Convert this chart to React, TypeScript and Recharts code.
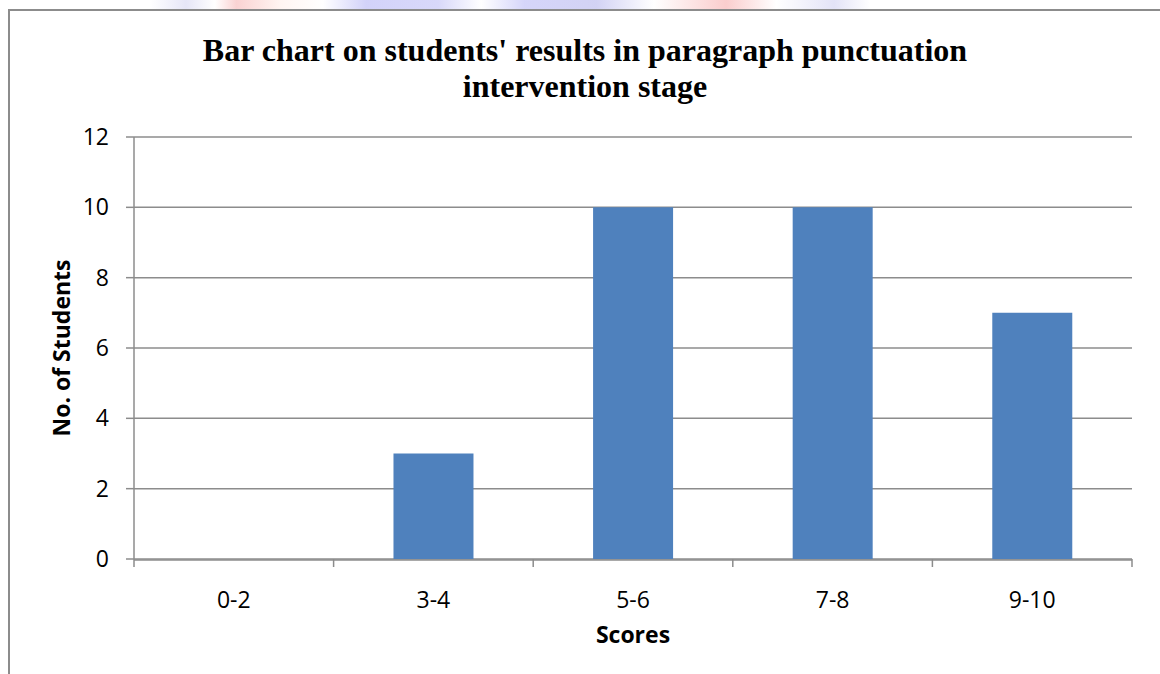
import { BarChart, Bar, XAxis, YAxis, CartesianGrid } from "recharts"

const scoreRanges = ["0-2", "3-4", "5-6", "7-8", "9-10"]
const studentCounts = [0, 3, 10, 10, 7]
const yTicks = [0, 2, 4, 6, 8, 10, 12]
const boundaryTicks = [0, 1, 2, 3, 4, 5]

const titleLines = [
  "Bar chart on students' results in paragraph punctuation",
  "intervention stage",
]

const data = scoreRanges.map((range, i) => ({ range, students: studentCounts[i], pos: i }))

const GRID = "#8c8c8c"
const SANS = "'Open Sans', sans-serif"

export default function App() {
  return (
    <div
      style={{
        position: "absolute",
        left: 0,
        top: 0,
        width: 1160,
        height: 674,
        overflow: "hidden",
        background: "#ffffff",
      }}
    >
      {/* faint watermark strip at the very top */}
      <div
        style={{
          position: "absolute",
          left: 150,
          top: 0,
          width: 720,
          height: 9,
          opacity: 0.35,
          background:
            "linear-gradient(90deg, #ffffff 0%, #b8b8e8 5%, #ffffff 9%, #f08080 12%, #ffe0d8 18%, #ffffff 24%, #8080f0 30%, #9090f0 40%, #ffffff 46%, #8888f0 52%, #8080e0 62%, #ffffff 70%, #f07070 80%, #ffffff 87%, #b0b0e8 95%, #ffffff 100%)",
        }}
      />

      {/* chart frame */}
      <div
        style={{
          position: "absolute",
          left: 8,
          top: 9,
          width: 1200,
          height: 700,
          border: `2px solid ${GRID}`,
          boxSizing: "border-box",
        }}
      />

      <div
        style={{
          position: "absolute",
          left: 0,
          top: 32,
          width: 1170,
          textAlign: "center",
          fontFamily: "'Liberation Serif', 'Times New Roman', serif",
          fontWeight: 700,
          fontSize: 32,
          lineHeight: "36px",
          color: "#000",
        }}
      >
        {titleLines.map((line) => (
          <div key={line}>{line}</div>
        ))}
      </div>

      <div style={{ position: "absolute", left: 0, top: 0 }}>
        <BarChart
          width={1160}
          height={674}
          data={data}
          margin={{ top: 137, right: 28, bottom: 84, left: 74 }}
          barCategoryGap="30%"
        >
          <CartesianGrid vertical={false} xAxisId={1} stroke={GRID} strokeWidth={1.5} />
          <XAxis
            xAxisId={0}
            type="number"
            dataKey="pos"
            domain={[0, 5]}
            allowDataOverflow
            ticks={boundaryTicks}
            interval={0}
            height={1}
            tickFormatter={() => ""}
            axisLine={false}
            tickLine={{ stroke: GRID, strokeWidth: 1.5 }}
            tickSize={8}
          />
          <XAxis
            xAxisId={1}
            dataKey="range"
            height={30}
            tickLine={false}
            axisLine={{ stroke: GRID, strokeWidth: 1.5 }}
            tick={{ fill: "#000", fontSize: 23, fontFamily: SANS }}
            tickMargin={26}
            label={{
              value: "Scores",
              position: "bottom",
              offset: 37,
              style: { fill: "#000", fontSize: 23, fontWeight: 700, fontFamily: SANS },
            }}
          />
          <YAxis
            width={60}
            domain={[0, 12]}
            ticks={yTicks}
            interval={0}
            axisLine={{ stroke: GRID, strokeWidth: 1.5 }}
            tickLine={{ stroke: GRID, strokeWidth: 1.5 }}
            tickSize={8}
            tickMargin={17}
            tick={{ fill: "#000", fontSize: 23, fontFamily: SANS }}
            label={{
              value: "No. of Students",
              angle: -90,
              position: "left",
              offset: 12,
              style: {
                textAnchor: "middle",
                fill: "#000",
                fontSize: 23,
                fontWeight: 700,
                fontFamily: SANS,
              },
            }}
          />
          <Bar dataKey="students" xAxisId={1} fill="#4f81bd" isAnimationActive={false} />
        </BarChart>
      </div>
    </div>
  )
}
